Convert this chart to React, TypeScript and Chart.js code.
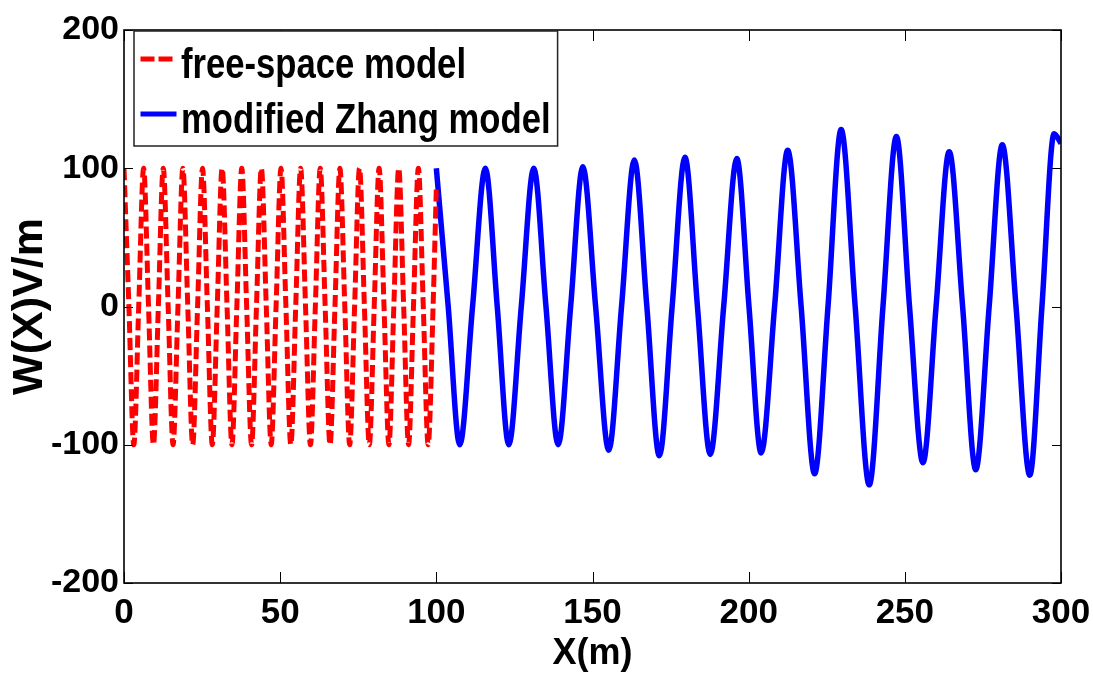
import React, { useEffect, useRef } from "react";
import { Chart, registerables } from "chart.js";

Chart.register(...registerables);

// Free-space model: crests, zero crossings and troughs along X (m)
const freeSpaceX = [
  0, 1.57, 3.14, 4.71, 6.28, 7.85, 9.42, 11.0, 12.57, 14.14, 15.71, 17.28, 18.85, 20.42, 21.99, 23.56,
  25.13, 26.7, 28.27, 29.85, 31.42, 32.99, 34.56, 36.13, 37.7, 39.27, 40.84, 42.41, 43.98, 45.55, 47.12, 48.69,
  50.27, 51.84, 53.41, 54.98, 56.55, 58.12, 59.69, 61.26, 62.83, 64.4, 65.97, 67.54, 69.12, 70.69, 72.26, 73.83,
  75.4, 76.97, 78.54, 80.11, 81.68, 83.25, 84.82, 86.39, 87.96, 89.54, 91.11, 92.68, 94.25, 95.82, 97.39, 98.96,
  100,
];
const freeSpaceW = [
  100, 0, -100, 0, 100, 0, -100, 0, 100, 0, -100, 0, 100, 0, -100, 0,
  100, 0, -100, 0, 100, 0, -100, 0, 100, 0, -100, 0, 100, 0, -100, 0,
  100, 0, -100, 0, 100, 0, -100, 0, 100, 0, -100, 0, 100, 0, -100, 0,
  100, 0, -100, 0, 100, 0, -100, 0, 100, 0, -100, 0, 100, 0, -100, 0,
  86,
];

// Modified Zhang model: crests, zero crossings and troughs along X (m)
const zhangX = [
  100, 103.8, 107.5, 111.6, 115.7, 119.5, 123.2, 127.2, 131.2, 135.1, 139.0, 143.0, 146.9, 151.0, 155.2, 159.3,
  163.4, 167.4, 171.4, 175.5, 179.6, 183.6, 187.7, 192.0, 196.2, 200.1, 204.0, 208.3, 212.5, 216.8, 221.1, 225.4,
  229.6, 234.1, 238.6, 243.0, 247.3, 251.5, 255.8, 260.0, 264.2, 268.5, 272.7, 277.0, 281.2, 285.6, 290.0, 293.9,
  297.8, 300,
];
const zhangW = [
  100, 0, -100, 0, 100, 0, -100, 0, 100, 0, -100, 0, 101, 0, -104, 0,
  106, 0, -108, 0, 108, 0, -107, 0, 107, 0, -106, 0, 113, 0, -121, 0,
  128, 0, -129, 0, 123, 0, -113, 0, 112, 0, -118, 0, 117, 0, -122, 0,
  125, 118,
];

const xTicks = [0, 50, 100, 150, 200, 250, 300];
const yTicks = [-200, -100, 0, 100, 200];
const seriesLabels = ["free-space model", "modified Zhang model"];
const xTitle = "X(m)";
const yTitle = "W(X)V/m";

const FAMILY = "'Liberation Sans', Arial, Helvetica, sans-serif";

const toPoints = (xs: number[], ys: number[]) => xs.map((x, i) => ({ x, y: ys[i] }));

// Boxed axes with inward tick marks, plus a boxed legend in the upper-left corner
const frameAndLegend = {
  id: "frameAndLegend",
  afterDraw(chart: any) {
    const { ctx, chartArea: a, scales } = chart;
    ctx.save();

    // inward ticks on all four sides
    ctx.strokeStyle = "#000";
    ctx.lineWidth = 1;
    ctx.beginPath();
    scales.x.ticks.forEach((t: any) => {
      const px = Math.round(scales.x.getPixelForValue(t.value)) + 0.5;
      ctx.moveTo(px, a.bottom);
      ctx.lineTo(px, a.bottom - 11);
      ctx.moveTo(px, a.top);
      ctx.lineTo(px, a.top + 11);
    });
    scales.y.ticks.forEach((t: any) => {
      const py = Math.round(scales.y.getPixelForValue(t.value)) + 0.5;
      ctx.moveTo(a.left, py);
      ctx.lineTo(a.left + 9, py);
      ctx.moveTo(a.right, py);
      ctx.lineTo(a.right - 9, py);
    });
    ctx.stroke();

    ctx.lineWidth = 1.6;
    ctx.strokeRect(a.left, a.top, a.right - a.left, a.bottom - a.top);

    // legend (text set in a condensed face by squeezing it horizontally)
    const ds = chart.data.datasets;
    const squeeze = 0.825;
    ctx.font = `bold 42px ${FAMILY}`;
    const bx = a.left + 10;
    const by = a.top + 1;
    const sampleLen = 32;
    const textX = bx + sampleLen + 15;
    let maxW = 0;
    ds.forEach((d: any) => (maxW = Math.max(maxW, ctx.measureText(d.label).width * squeeze)));
    const bw = textX - bx + maxW + 7;
    const bh = 115;
    ctx.fillStyle = "#fff";
    ctx.fillRect(bx, by, bw, bh);
    ctx.strokeStyle = "#222";
    ctx.lineWidth = 1.5;
    ctx.strokeRect(bx, by, bw, bh);

    ds.forEach((d: any, i: number) => {
      const lineY = by + 28 + i * 55;
      const dashed = d.borderDash && d.borderDash.length;
      ctx.save();
      ctx.strokeStyle = d.borderColor;
      ctx.lineWidth = 5;
      ctx.setLineDash(dashed ? [14, 4] : []);
      ctx.beginPath();
      ctx.moveTo(bx + 6.5, lineY);
      ctx.lineTo(bx + 6.5 + sampleLen + (dashed ? 0 : 4), lineY);
      ctx.stroke();
      ctx.restore();

      ctx.save();
      ctx.translate(textX, lineY + 19);
      ctx.scale(squeeze, 1);
      ctx.fillStyle = "#000";
      ctx.font = `bold 42px ${FAMILY}`;
      ctx.textAlign = "left";
      ctx.textBaseline = "alphabetic";
      ctx.fillText(d.label, 0, 0);
      ctx.restore();
    });

    ctx.restore();
  },
};

export default function App() {
  const canvasRef = useRef<HTMLCanvasElement | null>(null);

  useEffect(() => {
    const canvas = canvasRef.current;
    if (!canvas) return;
    const chart = new Chart(canvas, {
      type: "line",
      data: {
        datasets: [
          {
            label: seriesLabels[0],
            data: toPoints(freeSpaceX, freeSpaceW),
            borderColor: "#ff0000",
            borderWidth: 5,
            borderDash: [12, 5],
            pointRadius: 0,
            cubicInterpolationMode: "monotone",
            fill: false,
          },
          {
            label: seriesLabels[1],
            data: toPoints(zhangX, zhangW),
            borderColor: "#0000ff",
            borderWidth: 5.5,
            pointRadius: 0,
            cubicInterpolationMode: "monotone",
            fill: false,
          },
        ],
      },
      options: {
        animation: false,
        responsive: false,
        maintainAspectRatio: false,
        layout: { padding: { top: 30, right: 32, left: 0, bottom: 0 } },
        plugins: {
          legend: { display: false },
          tooltip: { enabled: false },
        },
        scales: {
          x: {
            type: "linear",
            min: 0,
            max: 300,
            afterBuildTicks: (scale: any) => {
              scale.ticks = xTicks.map((v) => ({ value: v }));
            },
            afterFit: (scale: any) => {
              scale.height = 94;
              // edge labels may overhang the plot frame, as the end labels do here
              scale.paddingLeft = 0;
              scale.paddingRight = 0;
            },
            grid: { display: false, drawTicks: false },
            border: { display: false },
            ticks: {
              color: "#000",
              padding: 9,
              maxRotation: 0,
              autoSkip: false,
              font: { family: FAMILY, size: 35, weight: "bold" },
            },
            title: {
              display: true,
              text: xTitle,
              color: "#000",
              padding: { top: 0, bottom: 1 },
              font: { family: FAMILY, size: 36, weight: "bold" },
            },
          },
          y: {
            type: "linear",
            min: -200,
            max: 200,
            afterBuildTicks: (scale: any) => {
              scale.ticks = yTicks.map((v) => ({ value: v }));
            },
            afterFit: (scale: any) => {
              scale.width = 124;
              scale.paddingTop = 0;
              scale.paddingBottom = 0;
            },
            grid: { display: false, drawTicks: false },
            border: { display: false },
            ticks: {
              color: "#000",
              padding: 5,
              autoSkip: false,
              font: { family: FAMILY, size: 34, weight: "bold" },
            },
            title: {
              display: true,
              text: yTitle,
              color: "#000",
              padding: { top: 4, bottom: 0 },
              font: { family: FAMILY, size: 43, weight: "bold" },
            },
          },
        },
      },
      plugins: [frameAndLegend],
    });
    return () => chart.destroy();
  }, []);

  return (
    <div
      style={{
        position: "absolute",
        left: 0,
        top: 0,
        width: 1093,
        height: 677,
        background: "#fff",
      }}
    >
      <canvas ref={canvasRef} width={1093} height={677} style={{ display: "block" }} />
    </div>
  );
}
